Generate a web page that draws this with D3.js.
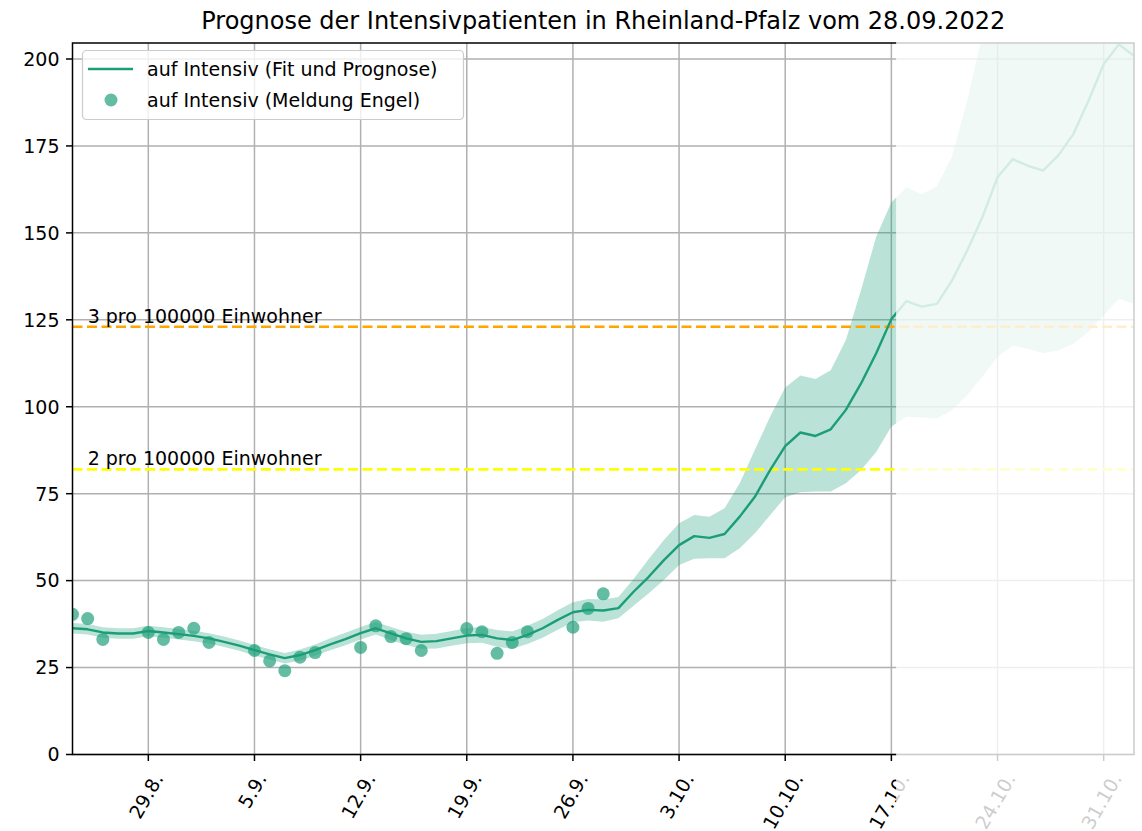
<!DOCTYPE html>
<html>
<head>
<meta charset="utf-8">
<script src="https://cdn.jsdelivr.net/npm/d3@7"></script>
<style>
  body { margin: 0; background: #fff; }
  svg text { font-family: "DejaVu Sans", sans-serif; fill: #000; }
</style>
</head>
<body>
<svg class="plot"></svg>
<script>
// chart data
// ==========
const title = 'Prognose der Intensivpatienten in Rheinland-Pfalz vom 28.09.2022'
const fitStart = '2022-08-24'
const fitEnd = '2022-11-02'
// daily fit value (one per day from fitStart to fitEnd)
const fitValues = [
  36.3, 36.0, 35.1, 34.8, 34.8, 35.5, 35.1, 34.6, 34.1, 33.4,
  32.4, 31.3, 30.0, 28.8, 27.7, 28.6, 30.0, 31.7, 33.2, 34.9,
  36.3, 34.8, 33.4, 32.4, 32.6, 33.4, 34.2, 34.4, 33.4, 32.9,
  34.4, 36.3, 38.7, 40.9, 41.6, 41.4, 42.1, 46.8, 51.1, 55.9,
  60.2, 62.8, 62.3, 63.4, 68.4, 74.1, 81.8, 88.7, 92.6, 91.6,
  93.5, 99.1, 106.7, 115.4, 125.2, 130.4, 128.8, 129.6, 136.3, 144.9,
  154.5, 166.0, 171.2, 169.3, 167.9, 172.2, 178.4, 188.0, 198.5, 204.2, 200.9,
]
const fitUpper = [
  37.8, 37.5, 36.6, 36.3, 36.3, 37.0, 36.6, 36.1, 35.6, 34.9,
  33.9, 32.8, 31.5, 30.3, 29.2, 30.2, 31.6, 33.4, 35.0, 36.7,
  38.1, 36.7, 35.3, 34.4, 34.7, 35.5, 36.4, 36.7, 35.8, 35.4,
  37.0, 39.0, 41.5, 43.8, 44.7, 44.6, 45.3, 50.5, 56.2, 61.7,
  66.5, 68.9, 68.4, 70.8, 78.0, 87.6, 97.1, 105.5, 109.0, 108.0,
  110.5, 119.2, 133.6, 148.9, 158.8, 163.1, 161.2, 163.3, 172.0, 188.0,
  207.0, 222.0, 232.0, 230.0, 229.0, 236.0, 246.0, 262.0, 278.0, 290.0, 286.0,
]
const fitLower = [
  34.8, 34.5, 33.6, 33.3, 33.3, 34.0, 33.6, 33.1, 32.6, 31.9,
  30.9, 29.8, 28.5, 27.3, 26.2, 27.0, 28.4, 30.0, 31.4, 33.1,
  34.5, 32.9, 31.5, 30.4, 30.5, 31.3, 32.0, 32.1, 31.0, 30.4,
  31.8, 33.6, 35.9, 38.0, 38.5, 38.2, 39.2, 42.8, 46.4, 50.2,
  54.5, 56.3, 56.4, 56.4, 59.3, 63.6, 68.8, 74.0, 75.4, 75.6,
  75.6, 78.0, 81.8, 87.0, 94.3, 97.1, 96.9, 96.6, 99.0, 103.3,
  108.6, 114.3, 117.6, 116.7, 115.4, 116.2, 118.1, 121.5, 126.3, 131.0, 129.6,
]
// reported values (Meldung Engel)
const reportDates = [
  '2022-08-24', '2022-08-25', '2022-08-26', '2022-08-29', '2022-08-30', '2022-08-31',
  '2022-09-01', '2022-09-02', '2022-09-05', '2022-09-06', '2022-09-07', '2022-09-08',
  '2022-09-09', '2022-09-12', '2022-09-13', '2022-09-14', '2022-09-15', '2022-09-16',
  '2022-09-19', '2022-09-20', '2022-09-21', '2022-09-22', '2022-09-23', '2022-09-26',
  '2022-09-27', '2022-09-28',
]
const reportValues = [
  40.3, 39.1, 33.1, 35.1, 33.1, 35.1,
  36.3, 32.2, 29.9, 26.9, 24.1, 28.0,
  29.3, 30.8, 37.0, 33.9, 33.3, 29.9,
  36.2, 35.3, 29.1, 32.2, 35.3, 36.6,
  42.0, 46.2,
]
// thresholds
const thresholdValues = [123, 82]
const thresholdLabels = ['3 pro 100000 Einwohner', '2 pro 100000 Einwohner']
const thresholdColors = ['orange', 'yellow']
const legendLabels = ['auf Intensiv (Fit und Prognose)', 'auf Intensiv (Meldung Engel)']
const yTicks = [0, 25, 50, 75, 100, 125, 150, 175, 200]
const yMax = 204.6
const fadeFrom = '2022-10-17T07:30'

// layout
// ======
const W = 1142, H = 831
const box = { left: 72.5, right: 1134, top: 43, bottom: 754.5 }
const parse = s => new Date(s)
const TEAL = '#1b9e77'

const xScale = d3.scaleTime()
  .domain([parse(fitStart), parse(fitEnd)])
  .range([box.left, box.right])
const yScale = d3.scaleLinear()
  .domain([0, yMax])
  .range([box.bottom, box.top])

const days = d3.timeDay.range(parse(fitStart), d3.timeDay.offset(parse(fitEnd), 1))
const fit = days.map((d, i) => ({ date: d, v: fitValues[i], lo: fitLower[i], hi: fitUpper[i] }))
const reports = reportDates.map((d, i) => ({ date: parse(d), v: reportValues[i] }))
const weekTicks = d3.timeMonday.range(parse('2022-08-25'), parse(fitEnd))

const svg = d3.select('.plot')
    .attr('width', W)
    .attr('height', H)

svg.append('defs').append('clipPath')
    .attr('id', 'clip')
  .append('rect')
    .attr('x', box.left)
    .attr('y', box.top)
    .attr('width', box.right - box.left)
    .attr('height', box.bottom - box.top)

// Title
svg.append('text')
    .attr('x', (box.left + box.right) / 2)
    .attr('y', 29)
    .attr('text-anchor', 'middle')
    .style('font-size', '24px')
    .text(title)

// Draw Grid
// =========
const grid = svg.append('g')
    .attr('class', 'grid')
    .attr('stroke', '#b0b0b0')
    .attr('stroke-width', 1.5)
grid.selectAll('line.v')
    .data(weekTicks)
  .enter().append('line')
    .attr('x1', d => xScale(d)).attr('x2', d => xScale(d))
    .attr('y1', box.top).attr('y2', box.bottom)
grid.selectAll('line.h')
    .data(yTicks)
  .enter().append('line')
    .attr('x1', box.left).attr('x2', box.right)
    .attr('y1', d => yScale(d)).attr('y2', d => yScale(d))

// Draw Fit + Band
// ===============
const plot = svg.append('g').attr('clip-path', 'url(#clip)')

const area = d3.area()
  .x(d => xScale(d.date))
  .y0(d => yScale(d.lo))
  .y1(d => yScale(d.hi))
const line = d3.line()
  .x(d => xScale(d.date))
  .y(d => yScale(d.v))

plot.append('path')
    .datum(fit)
    .attr('d', area)
    .attr('fill', TEAL)
    .attr('fill-opacity', 0.3)

plot.selectAll('line.thr')
    .data(thresholdValues)
  .enter().append('line')
    .attr('x1', box.left).attr('x2', box.right)
    .attr('y1', d => yScale(d)).attr('y2', d => yScale(d))
    .attr('stroke', (d, i) => thresholdColors[i])
    .attr('stroke-width', 2.6)
    .attr('stroke-dasharray', '10,4.5')

plot.append('path')
    .datum(fit)
    .attr('d', line)
    .attr('fill', 'none')
    .attr('stroke', TEAL)
    .attr('stroke-width', 2.4)
    .attr('stroke-linejoin', 'round')

plot.selectAll('circle')
    .data(reports)
  .enter().append('circle')
    .attr('cx', d => xScale(d.date))
    .attr('cy', d => yScale(d.v))
    .attr('r', 6.5)
    .attr('fill', TEAL)
    .attr('fill-opacity', 0.68)

svg.selectAll('text.thr')
    .data(thresholdValues)
  .enter().append('text')
    .attr('x', xScale(parse('2022-08-25')))
    .attr('y', d => yScale(d + 1.2))
    .style('font-size', '19px')
    .text((d, i) => thresholdLabels[i])

// Draw Axis
// =========
const axes = svg.append('g')
axes.append('rect')
    .attr('x', box.left).attr('y', box.top)
    .attr('width', box.right - box.left)
    .attr('height', box.bottom - box.top)
    .attr('fill', 'none')
    .attr('stroke', '#000')
    .attr('stroke-width', 1.5)

// y ticks
axes.selectAll('line.yt')
    .data(yTicks)
  .enter().append('line')
    .attr('x1', box.left - 6.5).attr('x2', box.left)
    .attr('y1', d => yScale(d)).attr('y2', d => yScale(d))
    .attr('stroke', '#000').attr('stroke-width', 1.5)
axes.selectAll('text.yt')
    .data(yTicks)
  .enter().append('text')
    .attr('x', box.left - 13)
    .attr('y', d => yScale(d))
    .attr('dy', '0.36em')
    .attr('text-anchor', 'end')
    .style('font-size', '19px')
    .text(d => d)

// x ticks
const fmt = d3.timeFormat('%-d.%-m.')
axes.selectAll('line.xt')
    .data(weekTicks)
  .enter().append('line')
    .attr('x1', d => xScale(d)).attr('x2', d => xScale(d))
    .attr('y1', box.bottom).attr('y2', box.bottom + 6.5)
    .attr('stroke', '#000').attr('stroke-width', 1.5)

const fs = 19, asc = 0.93 * fs, desc = 0.24 * fs
const c60 = Math.cos(Math.PI / 3), s60 = Math.sin(Math.PI / 3)
axes.selectAll('text.xt')
    .data(weekTicks)
  .enter().append('text')
    .style('font-size', fs + 'px')
    .text(fmt)
    .each(function(d) {
      const L = this.getComputedTextLength()
      const w = L * c60 + s60 * (asc + desc)
      const xs = xScale(d) - w / 2 + s60 * asc - 2
      const ys = box.bottom + 15 + s60 * L + c60 * asc
      d3.select(this).attr('transform', `translate(${xs},${ys}) rotate(-60)`)
    })

// Legend
// ======
const legend = svg.append('g')
legend.append('rect')
    .attr('x', 82.5).attr('y', 50.5)
    .attr('width', 381).attr('height', 69)
    .attr('rx', 4)
    .attr('fill', '#fff').attr('fill-opacity', 0.8)
    .attr('stroke', '#cccccc').attr('stroke-width', 1.2)
legend.append('line')
    .attr('x1', 88).attr('x2', 133)
    .attr('y1', 69).attr('y2', 69)
    .attr('stroke', TEAL).attr('stroke-width', 2.4)
legend.append('circle')
    .attr('cx', 111).attr('cy', 100).attr('r', 6.5)
    .attr('fill', TEAL).attr('fill-opacity', 0.68)
legend.selectAll('text')
    .data(legendLabels)
  .enter().append('text')
    .attr('x', 147)
    .attr('y', (d, i) => 69 + i * 31)
    .attr('dy', '0.36em')
    .style('font-size', '19px')
    .text(d => d)

// Fade out the far forecast
// =========================
const fx = xScale(parse(fadeFrom))
svg.append('rect')
    .attr('x', fx).attr('y', 38)
    .attr('width', W - fx).attr('height', H - 38)
    .attr('fill', '#fff')
    .attr('fill-opacity', 0.8)
</script>
</body>
</html>
